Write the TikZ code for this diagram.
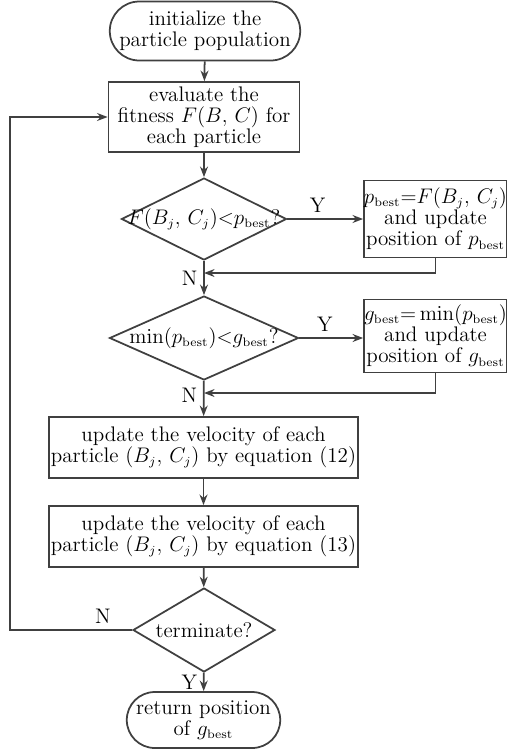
\documentclass[tikz,border=0pt]{standalone}
\usepackage{amsmath, amssymb}
\usepackage{tikz}
\usetikzlibrary{shapes.geometric, shapes.misc, arrows.meta}

\DeclareMathSizes{12}{12}{7}{5}
\definecolor{linegray}{RGB}{64,64,64}
\newcommand{\bst}{\mathrm{best}}

\begin{document}
\begin{tikzpicture}[x=0.02cm, y=-0.02cm,
  every node/.style={font=\fontsize{12}{12}\selectfont},
  terminal/.style={rounded rectangle, draw=linegray, line width=1pt, align=center, inner sep=1pt},
  box/.style={rectangle, draw=linegray, line width=1pt, align=center, inner sep=1pt},
  decision/.style={diamond, draw=linegray, line width=1pt, inner sep=0pt},
  flow/.style={draw=linegray, line width=1pt, -{Stealth[length=6pt, width=4.5pt]}}]

\useasboundingbox (0,0) rectangle (507,752);

% Start
\node[terminal, minimum width=3.88cm, minimum height=1.18cm] (init) at (205,31) {initialize the\\particle population};

% Fitness
\node[box, minimum width=3.82cm, minimum height=1.4cm] (eval) at (204,117) {evaluate the\\fitness $F(B,\,C)$ for\\each particle};

% Personal best
\node[decision, minimum width=3.3cm, minimum height=1.64cm, label=center:{$F(B_j,\,C_j){<}p_{\bst}$?}] (pcheck) at (204,219) {};
\node[box, inner xsep=0pt, minimum width=2.82cm, minimum height=1.54cm] (pbest) at (435.5,219) {$p_{\bst}{=}F(B_j,\,C_j)$\\and update\\position of $p_{\bst}$};

% Global best
\node[decision, minimum width=3.78cm, minimum height=1.68cm, label=center:{$\min(p_{\bst}){<}g_{\bst}$?}] (gcheck) at (204,338) {};
\node[box, inner xsep=0pt, minimum width=2.82cm, minimum height=1.46cm] (gbest) at (435.5,336) {$g_{\bst}{=}\min(p_{\bst})$\\and update\\position of $g_{\bst}$};

% Updates
\node[box, minimum width=6.02cm, minimum height=1.22cm] (vel) at (203.5,447.5) {update the velocity of each\\particle $(B_j,\,C_j)$ by equation (12)};
\node[box, minimum width=6.02cm, minimum height=1.22cm] (pos) at (203.5,536.5) {update the velocity of each\\particle $(B_j,\,C_j)$ by equation (13)};

% Stop test
\node[decision, minimum width=2.84cm, minimum height=1.68cm, label=center:terminate?] (stop) at (204,630) {};
\node[terminal, minimum width=3.14cm, minimum height=1.12cm] (ret) at (203.5,720) {return position\\of $g_{\bst}$};

% Joins
\coordinate (pjoin) at (204,273);
\coordinate (gjoin) at (204,393);
\coordinate (loop) at (10,630);

% Connectors
\draw[flow] (init) -- (eval);
\draw[flow] (eval) -- (pcheck);
\draw[flow] (pcheck.east) -- node[above, pos=0.4] {Y} (pcheck.east -| pbest.west);
\draw[flow] (pbest.south) |- (pjoin);
\draw[flow] (pcheck) -- node[left] {N} (gcheck);
\draw[flow] (gcheck.east) -- node[above, pos=0.4] {Y} (gcheck.east -| gbest.west);
\draw[flow] (gbest.south) |- (gjoin);
\draw[flow] (gcheck) -- node[left, pos=0.4] {N} (vel);
\draw[flow] (vel) -- (pos);
\draw[flow] (pos) -- (stop);
\draw[flow] (stop) -- node[left] {Y} (ret);
\draw[flow] (stop.west) -- node[above, pos=0.24] {N} (loop) |- (eval.west);

\end{tikzpicture}
\end{document}
